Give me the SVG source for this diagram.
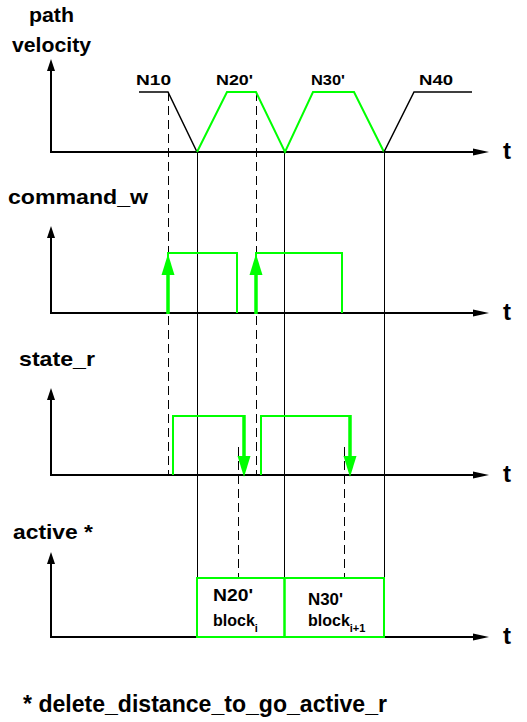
<svg xmlns="http://www.w3.org/2000/svg" width="527" height="722" viewBox="0 0 527 722">
<style>
text{font-family:"Liberation Sans",Arial,sans-serif;font-weight:bold;fill:#000}
.title{font-size:20.5px}
.lbl{font-size:15px}
.box{font-size:16px}
.t{font-size:24px}
.foot{font-size:23px}
.axis{stroke:#000;stroke-width:2;fill:none}
.ax-y{marker-end:url(#ay)}
.ax-x{marker-end:url(#ax)}
.blk{stroke:#000;stroke-width:1.5;fill:none}
.grn{stroke:#00ff00;stroke-width:2;fill:none}
.garr{stroke:#00ff00;stroke-width:3.5;fill:none;marker-end:url(#ga)}
.vl{stroke:#000;stroke-width:1;fill:none}
.dash{stroke:#000;stroke-width:1;fill:none;stroke-dasharray:9 5}
</style>
<defs>
<marker id="ay" markerUnits="userSpaceOnUse" viewBox="0 -5 12 10" refX="0" refY="0" markerWidth="12" markerHeight="10" orient="auto"><path d="M0,-4 L12,0 L0,4 Z" fill="#000"/></marker>
<marker id="ax" markerUnits="userSpaceOnUse" viewBox="0 -5 16 10" refX="0" refY="0" markerWidth="16" markerHeight="10" orient="auto"><path d="M0,-3.5 L16,0 L0,3.5 Z" fill="#000"/></marker>
<marker id="ga" markerUnits="userSpaceOnUse" viewBox="0 -7 21 14" refX="0" refY="0" markerWidth="21" markerHeight="14" orient="auto"><path d="M0,-6.5 L21,0 L0,6.5 Z" fill="#00ff00"/></marker>
</defs>

<g id="connectors">
<line class="vl" x1="197.5" y1="152" x2="197.5" y2="578"/>
<line class="vl" x1="284.5" y1="152" x2="284.5" y2="578"/>
<line class="vl" x1="384.5" y1="152" x2="384.5" y2="578"/>
<line class="dash" x1="168.5" y1="92" x2="168.5" y2="475"/>
<line class="dash" x1="256.5" y1="92" x2="256.5" y2="475"/>
<line class="dash" x1="238.5" y1="447" x2="238.5" y2="578"/>
<line class="dash" x1="344.5" y1="447" x2="344.5" y2="578"/>
</g>

<g id="panel-velocity">
<text class="title" x="29" y="22" textLength="45" lengthAdjust="spacingAndGlyphs">path</text>
<text class="title" x="12" y="52" textLength="79" lengthAdjust="spacingAndGlyphs">velocity</text>
<line class="axis ax-y" x1="51" y1="153" x2="51" y2="71"/>
<line class="axis ax-x" x1="50" y1="152" x2="473" y2="152"/>
<text class="t" x="503" y="159">t</text>
<polyline class="blk" points="139,92 168,92 197,152"/>
<polyline class="grn" points="197,152 227,92 256,92 285,152 313,92 354,92 384,152"/>
<polyline class="blk" points="384,152 414,92 472,92"/>
<text class="lbl" x="136" y="85" textLength="35" lengthAdjust="spacingAndGlyphs">N10</text>
<text class="lbl" x="216" y="85" textLength="37" lengthAdjust="spacingAndGlyphs">N20'</text>
<text class="lbl" x="311" y="85" textLength="34" lengthAdjust="spacingAndGlyphs">N30'</text>
<text class="lbl" x="419" y="85" textLength="34" lengthAdjust="spacingAndGlyphs">N40</text>
</g>

<g id="panel-command">
<text class="title" x="8" y="204" textLength="140" lengthAdjust="spacingAndGlyphs">command_w</text>
<line class="axis ax-y" x1="51" y1="314" x2="51" y2="238"/>
<line class="axis ax-x" x1="50" y1="313" x2="473" y2="313"/>
<text class="t" x="503" y="320">t</text>
<polyline class="grn" points="168,313 168,253 237,253 237,313"/>
<polyline class="grn" points="256,313 256,253 342,253 342,313"/>
<line class="garr" x1="168" y1="314" x2="168" y2="275"/>
<line class="garr" x1="256" y1="314" x2="256" y2="275"/>
</g>

<g id="panel-state">
<text class="title" x="19" y="366" textLength="76" lengthAdjust="spacingAndGlyphs">state_r</text>
<line class="axis ax-y" x1="51" y1="476" x2="51" y2="400"/>
<line class="axis ax-x" x1="50" y1="475" x2="473" y2="475"/>
<text class="t" x="503" y="482">t</text>
<polyline class="grn" points="173,475 173,416 244,416"/>
<polyline class="grn" points="261,475 261,416 350,416"/>
<line class="garr" x1="244" y1="415" x2="244" y2="456"/>
<line class="garr" x1="350" y1="415" x2="350" y2="456"/>
</g>

<g id="panel-active">
<text class="title" x="13" y="539" textLength="80" lengthAdjust="spacingAndGlyphs">active *</text>
<line class="axis ax-y" x1="51" y1="638" x2="51" y2="564"/>
<line class="axis ax-x" x1="50" y1="637" x2="473" y2="637"/>
<text class="t" x="503" y="644">t</text>
<g id="block-i">
<rect class="grn" x="197" y="578" width="87.5" height="59"/>
<text class="box" x="213" y="601" textLength="40" lengthAdjust="spacingAndGlyphs">N20'</text>
<text class="box" x="213" y="626">block<tspan font-size="11" dy="6">i</tspan></text>
</g>
<g id="block-i1">
<rect class="grn" x="284.5" y="578" width="99.5" height="59"/>
<text class="box" x="308" y="605" textLength="35" lengthAdjust="spacingAndGlyphs">N30'</text>
<text class="box" x="308" y="626">block<tspan font-size="11" dy="6">i+1</tspan></text>
</g>
</g>

<text class="foot" x="23" y="712" textLength="364" lengthAdjust="spacingAndGlyphs">* delete_distance_to_go_active_r</text>
</svg>
